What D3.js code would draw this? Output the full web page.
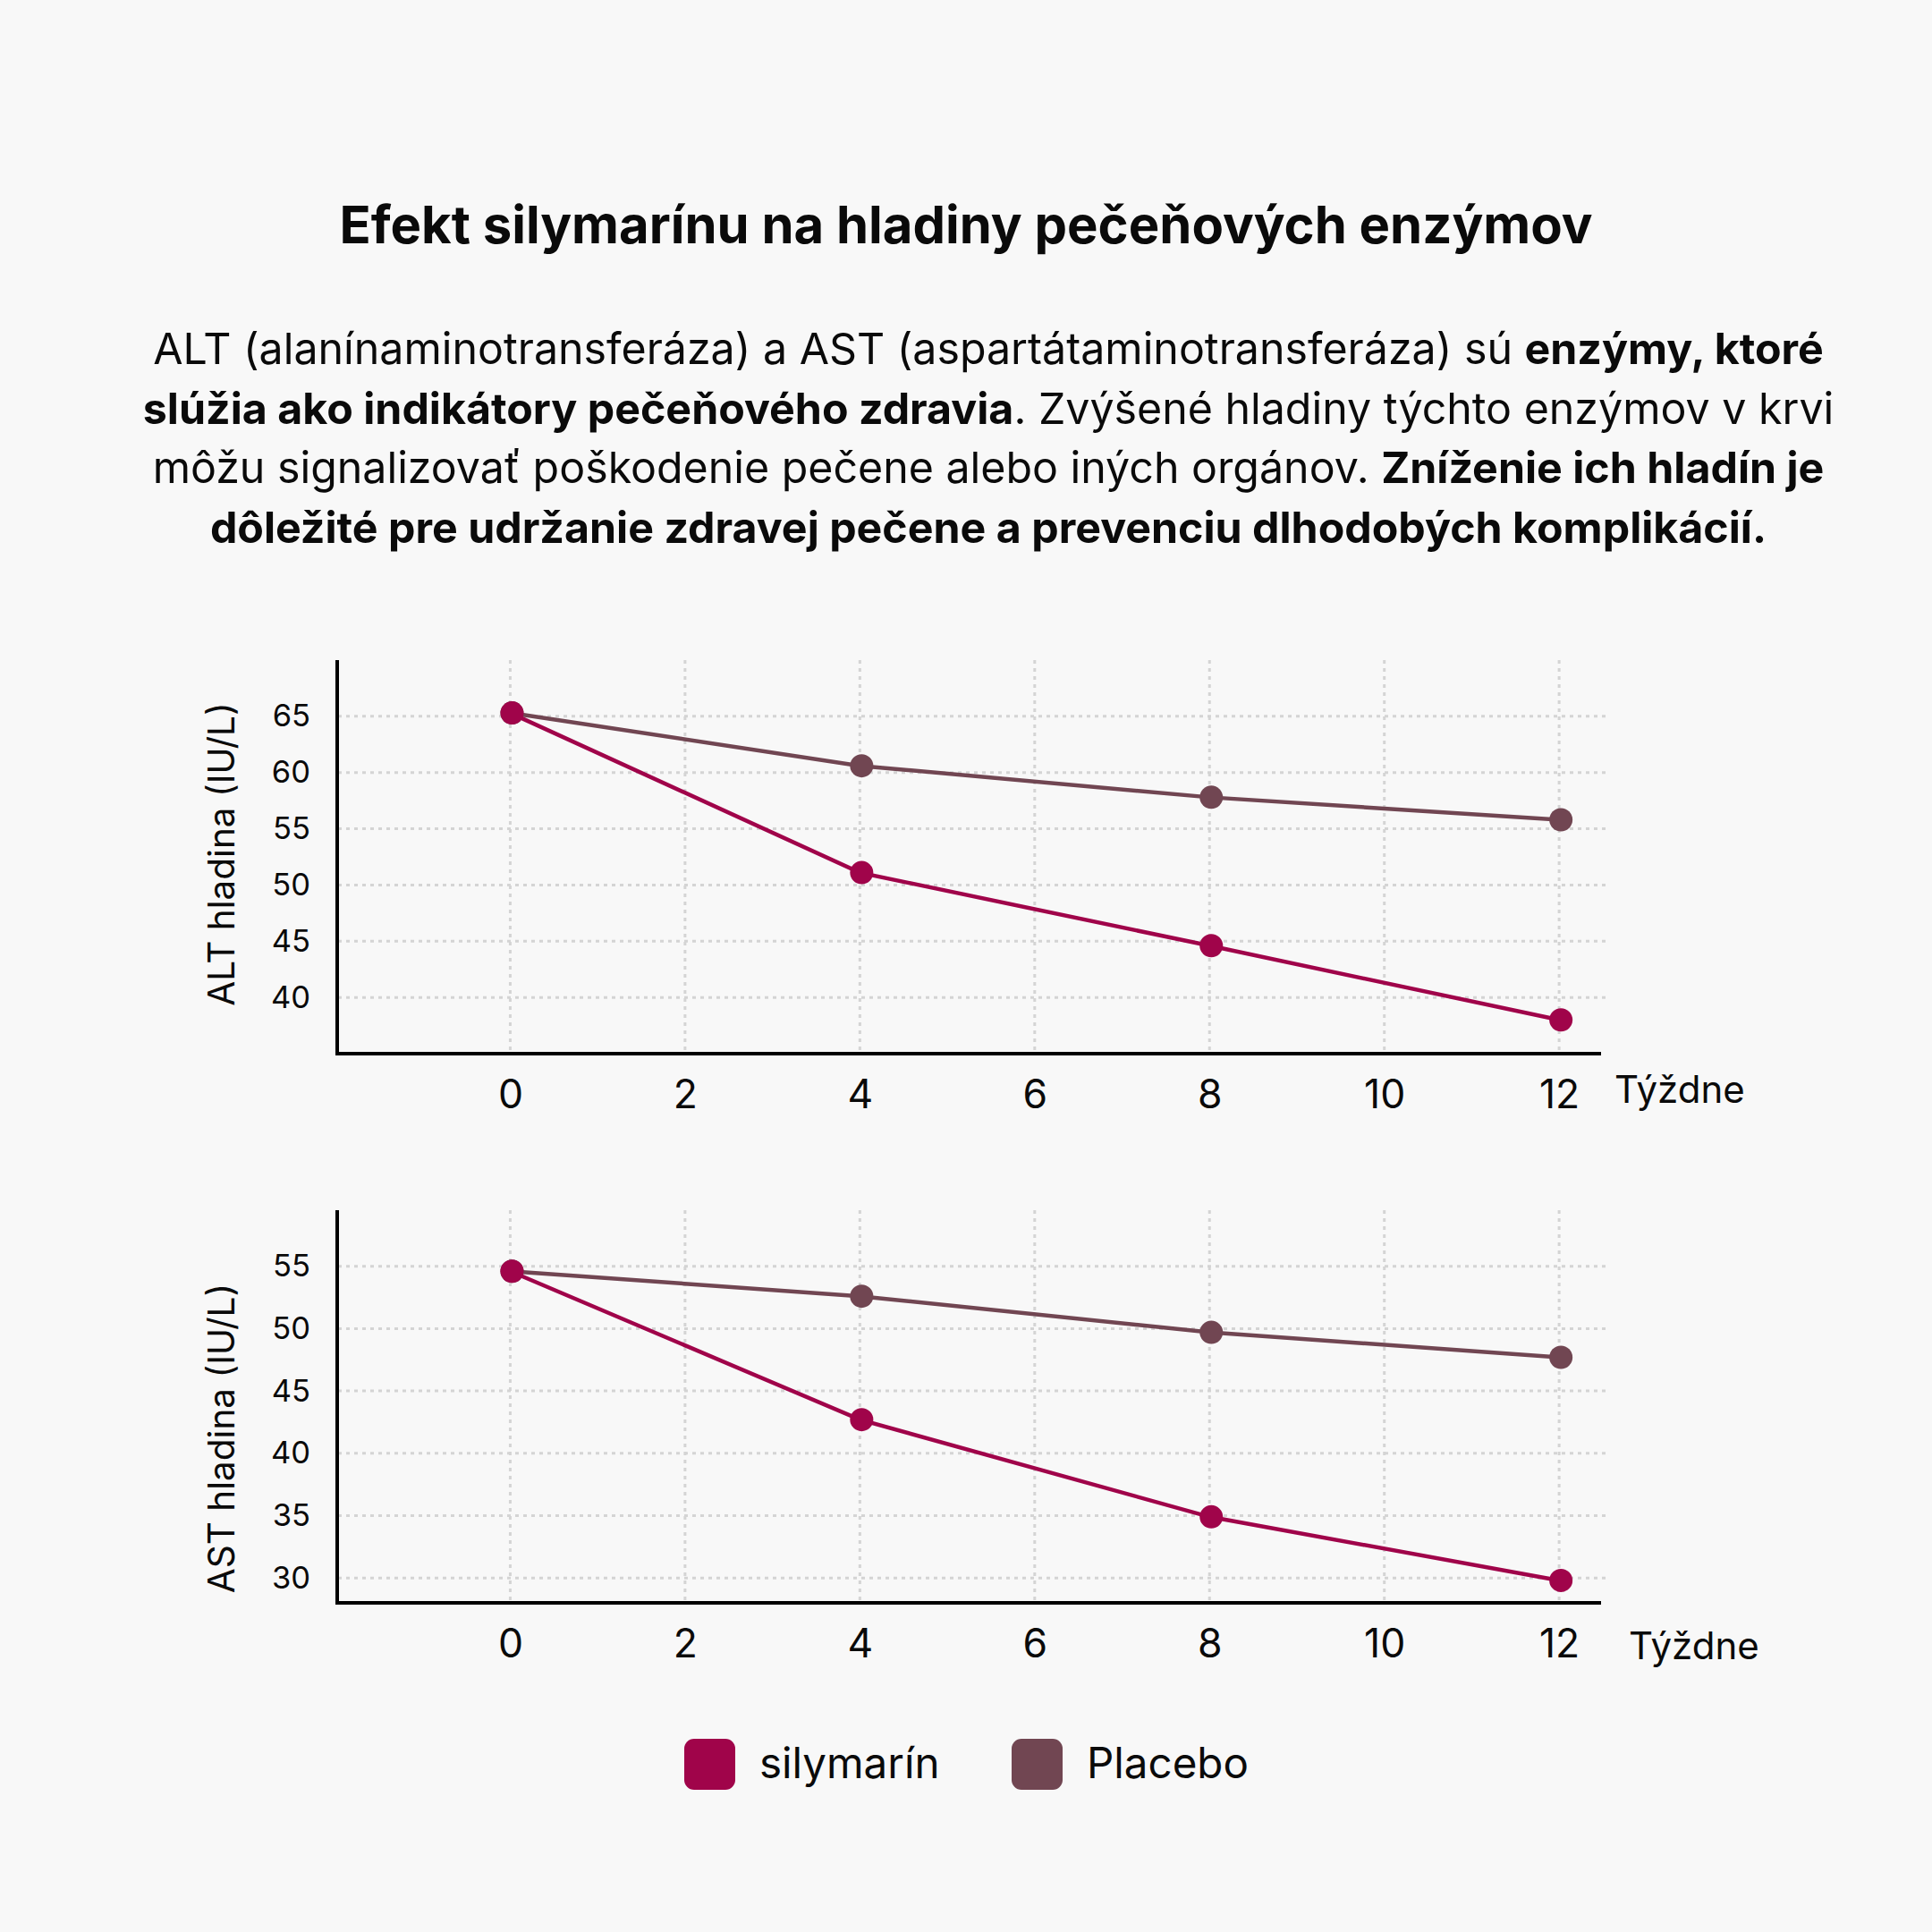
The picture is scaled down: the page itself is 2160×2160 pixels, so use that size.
<!DOCTYPE html>
<html>
<head>
<meta charset="utf-8">
<script src="https://cdn.jsdelivr.net/npm/d3@7"></script>
<style>
  html, body { margin: 0; padding: 0; background: #f8f8f8; }
  svg { display: block; }
  text { font-family: Inter, "Noto Sans", sans-serif; fill: #0a0a0a; }
</style>
</head>
<body>
<script>
// ---------- DATA ----------
const weeks = [0, 4, 8, 12];
const altSilymarin = [65.3, 51.1, 44.6, 38.0];
const altPlacebo   = [65.3, 60.6, 57.8, 55.8];
const astSilymarin = [54.6, 42.7, 34.9, 29.8];
const astPlacebo   = [54.6, 52.6, 49.7, 47.7];
const xTicks = [0, 2, 4, 6, 8, 10, 12];
const altTicks = [40, 45, 50, 55, 60, 65];
const astTicks = [30, 35, 40, 45, 50, 55];
const seriesNames = ["silymarín", "Placebo"];
const seriesColors = ["#A0044A", "#714652"];
const titleText = "Efekt silymarínu na hladiny pečeňových enzýmov";
const paragraphLines = [
  [["ALT (alanínaminotransferáza) a AST (aspartátaminotransferáza) sú ", false], ["enzýmy, ktoré", true]],
  [["slúžia ako indikátory pečeňového zdravia", true], [". Zvýšené hladiny týchto enzýmov v krvi", false]],
  [["môžu signalizovať poškodenie pečene alebo iných orgánov. ", false], ["Zníženie ich hladín je", true]],
  [["dôležité pre udržanie zdravej pečene a prevenciu dlhodobých komplikácií.", true]]
];
const xLabel = "Týždne";
const altLabel = "ALT hladina (IU/L)";
const astLabel = "AST hladina (IU/L)";

// ---------- LAYOUT ----------
const W = 2160, H = 2160;
const svg = d3.select("body").append("svg").attr("width", W).attr("height", H);
svg.append("rect").attr("width", W).attr("height", H).attr("fill", "#f8f8f8");

svg.append("text").attr("x", 1080).attr("y", 272).attr("text-anchor", "middle")
  .attr("font-size", 58).attr("font-weight", 700).text(titleText);

paragraphLines.forEach((line, i) => {
  const t = svg.append("text").attr("x", 1105).attr("y", 407 + i * 66.5)
    .attr("text-anchor", "middle").attr("font-size", 48.3);
  line.forEach(([s, b]) => {
    t.append("tspan").attr("font-weight", b ? 700 : 400).text(s);
  });
});

function drawPanel(cfg) {
  const g = svg.append("g");
  const x = d3.scaleLinear().domain([-2, 12.5]).range([375, 1792]);
  const y = d3.scaleLinear().domain(cfg.yDomain).range([cfg.bottom, cfg.top]);

  // grid
  g.append("g").selectAll("line").data(cfg.yTicks).join("line")
    .attr("x1", 378).attr("x2", 1795)
    .attr("y1", d => y(d)).attr("y2", d => y(d))
    .attr("stroke", "#d4d4d4").attr("stroke-width", 3).attr("stroke-dasharray", "4,5");
  g.append("g").selectAll("line").data(xTicks).join("line")
    .attr("x1", d => x(d)).attr("x2", d => x(d))
    .attr("y1", cfg.top).attr("y2", cfg.bottom)
    .attr("stroke", "#d4d4d4").attr("stroke-width", 3).attr("stroke-dasharray", "4,5");

  // axes
  const xa = g.append("g").attr("transform", `translate(0,${cfg.bottom})`)
    .call(d3.axisBottom(x).tickValues(xTicks).tickSize(0).tickPadding(29));
  xa.select(".domain").remove();
  xa.selectAll("text").attr("font-size", 44.5).attr("fill", "#0a0a0a")
    .style("font-family", "Inter, sans-serif");
  const ya = g.append("g").attr("transform", `translate(347,0)`)
    .call(d3.axisLeft(y).tickValues(cfg.yTicks).tickSize(0).tickPadding(0));
  ya.select(".domain").remove();
  ya.selectAll("text").attr("font-size", 34.5).attr("fill", "#0a0a0a")
    .style("font-family", "Inter, sans-serif");

  g.append("line").attr("x1", 377).attr("x2", 377).attr("y1", cfg.top).attr("y2", cfg.bottom + 2)
    .attr("stroke", "#000").attr("stroke-width", 4);
  g.append("line").attr("x1", 375).attr("x2", 1790).attr("y1", cfg.bottom).attr("y2", cfg.bottom)
    .attr("stroke", "#000").attr("stroke-width", 4);

  g.append("text").attr("x", cfg.xLabelX).attr("y", cfg.xLabelY).attr("dy", "0.35em")
    .attr("font-size", 42).text(xLabel);
  g.append("text").attr("transform", `translate(248,${cfg.yLabelCY}) rotate(-90)`)
    .attr("text-anchor", "middle").attr("dy", "0.35em").attr("font-size", 40.5).text(cfg.yLabel);

  const line = d3.line().x(d => x(d[0])).y(d => y(d[1]));
  // draw placebo first, silymarin on top
  [1, 0].forEach(si => {
    const vals = cfg.series[si];
    const pts = weeks.map((w, i) => [w, vals[i]]);
    g.append("path").datum(pts).attr("d", line).attr("fill", "none")
      .attr("stroke", seriesColors[si]).attr("stroke-width", 4.5);
    g.append("g").selectAll("circle").data(pts).join("circle")
      .attr("cx", d => x(d[0]) + 2).attr("cy", d => y(d[1])).attr("r", 13)
      .attr("fill", seriesColors[si]);
  });
}

drawPanel({ yDomain: [35, 70], top: 738, bottom: 1178, yTicks: altTicks,
  series: [altSilymarin, altPlacebo], yLabel: altLabel, yLabelCY: 955,
  xLabelX: 1805, xLabelY: 1218 });
drawPanel({ yDomain: [28, 59.5], top: 1353, bottom: 1792, yTicks: astTicks,
  series: [astSilymarin, astPlacebo], yLabel: astLabel, yLabelCY: 1608,
  xLabelX: 1821, xLabelY: 1840 });

// legend
const legX = [765, 1131];
seriesNames.forEach((n, i) => {
  svg.append("rect").attr("x", legX[i]).attr("y", 1944).attr("width", 57).attr("height", 57)
    .attr("rx", 11).attr("fill", seriesColors[i]);
  svg.append("text").attr("x", legX[i] + 84).attr("y", 1988).attr("font-size", 47.5).text(n);
});
</script>
</body>
</html>
